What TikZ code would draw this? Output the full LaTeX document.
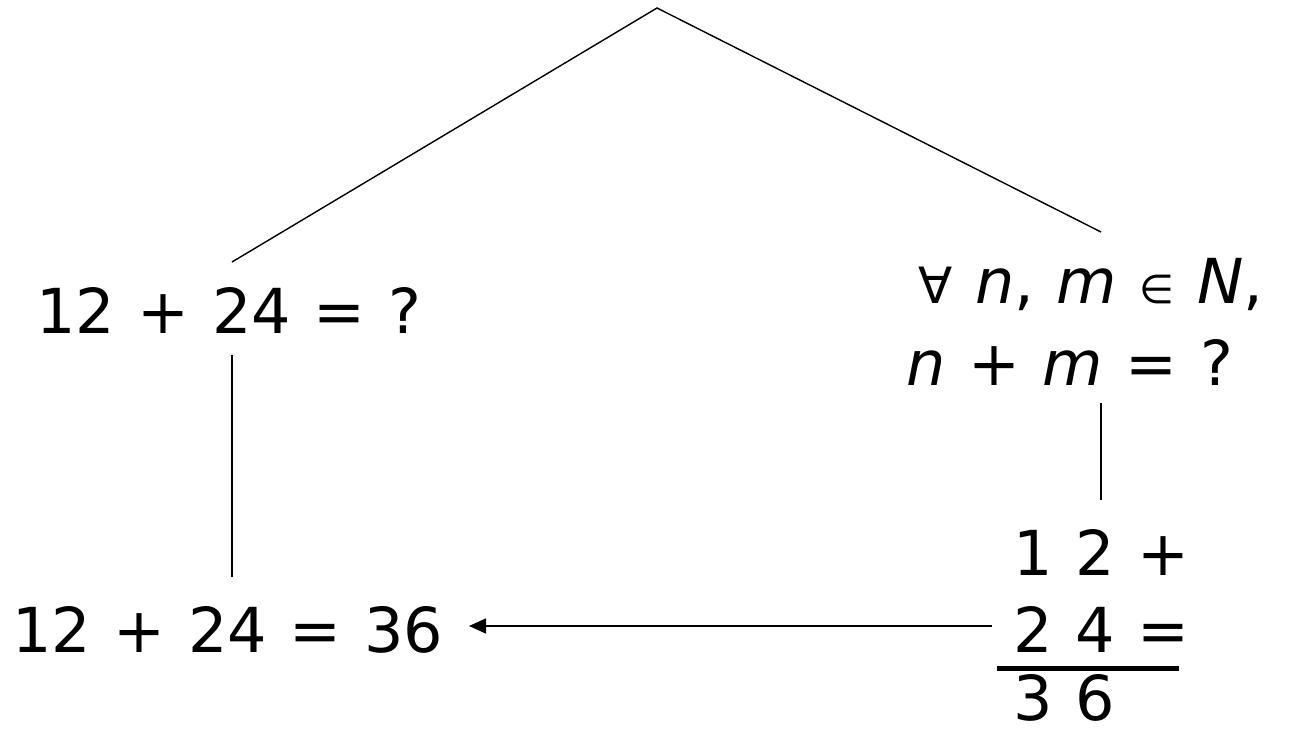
\documentclass[tikz,border=0pt]{standalone}
\usepackage{fontspec}
\setmainfont[WordSpace=1.15]{DejaVu Sans}
\usetikzlibrary{arrows.meta}
\begin{document}
\begin{tikzpicture}[x=1pt,y=-1pt,
  txt/.style={anchor=base west,inner sep=0pt,font=\fontsize{62}{74}\selectfont},
  conn/.style={line width=1.4pt},
  arr/.style={line width=1.4pt,-{Triangle[length=17pt,width=15pt]}}]
\useasboundingbox (0,0) rectangle (1293,733);
% texts
\node[txt] (q1) at (36,333) {12 + 24 = ?};
\node[txt] (a1) at (12,652) {12 + 24 = 36};
\node[txt] (g1) at (918,303) {{\fontsize{50}{60}\selectfont ∀} \itshape n\upshape, \itshape m\upshape{} {\fontsize{40}{60}\selectfont ∈} \itshape N\upshape,};
\node[txt] (g2) at (906,385) {\itshape n\upshape{} + \itshape m\upshape{} = ?};
\node[txt] (s1) at (1013,575) {1 2 +};
\node[txt] (s2) at (1013,652) {2 4 =};
\node[txt] (s3) at (1013,720) {3 6};
% connector end points
\coordinate (apex) at (657,8);
\coordinate (lq) at (232,262);
\coordinate (rq) at (1101,232);
\coordinate (lq2) at (232,355);
\coordinate (la) at (232,577);
\coordinate (rg) at (1101,403);
\coordinate (rs) at (1101,500);
\coordinate (arrs) at (992,626);
\coordinate (arre) at (469,626);
\coordinate (bar1) at (997,668);
\coordinate (bar2) at (1179,668);
\draw[conn] (lq) -- (apex) -- (rq);
\draw[conn] (lq2) -- (la);
\draw[conn] (rg) -- (rs);
\draw[arr] (arrs) -- (arre);
\draw[line width=5pt] (bar1) -- (bar2);
\end{tikzpicture}
\end{document}
